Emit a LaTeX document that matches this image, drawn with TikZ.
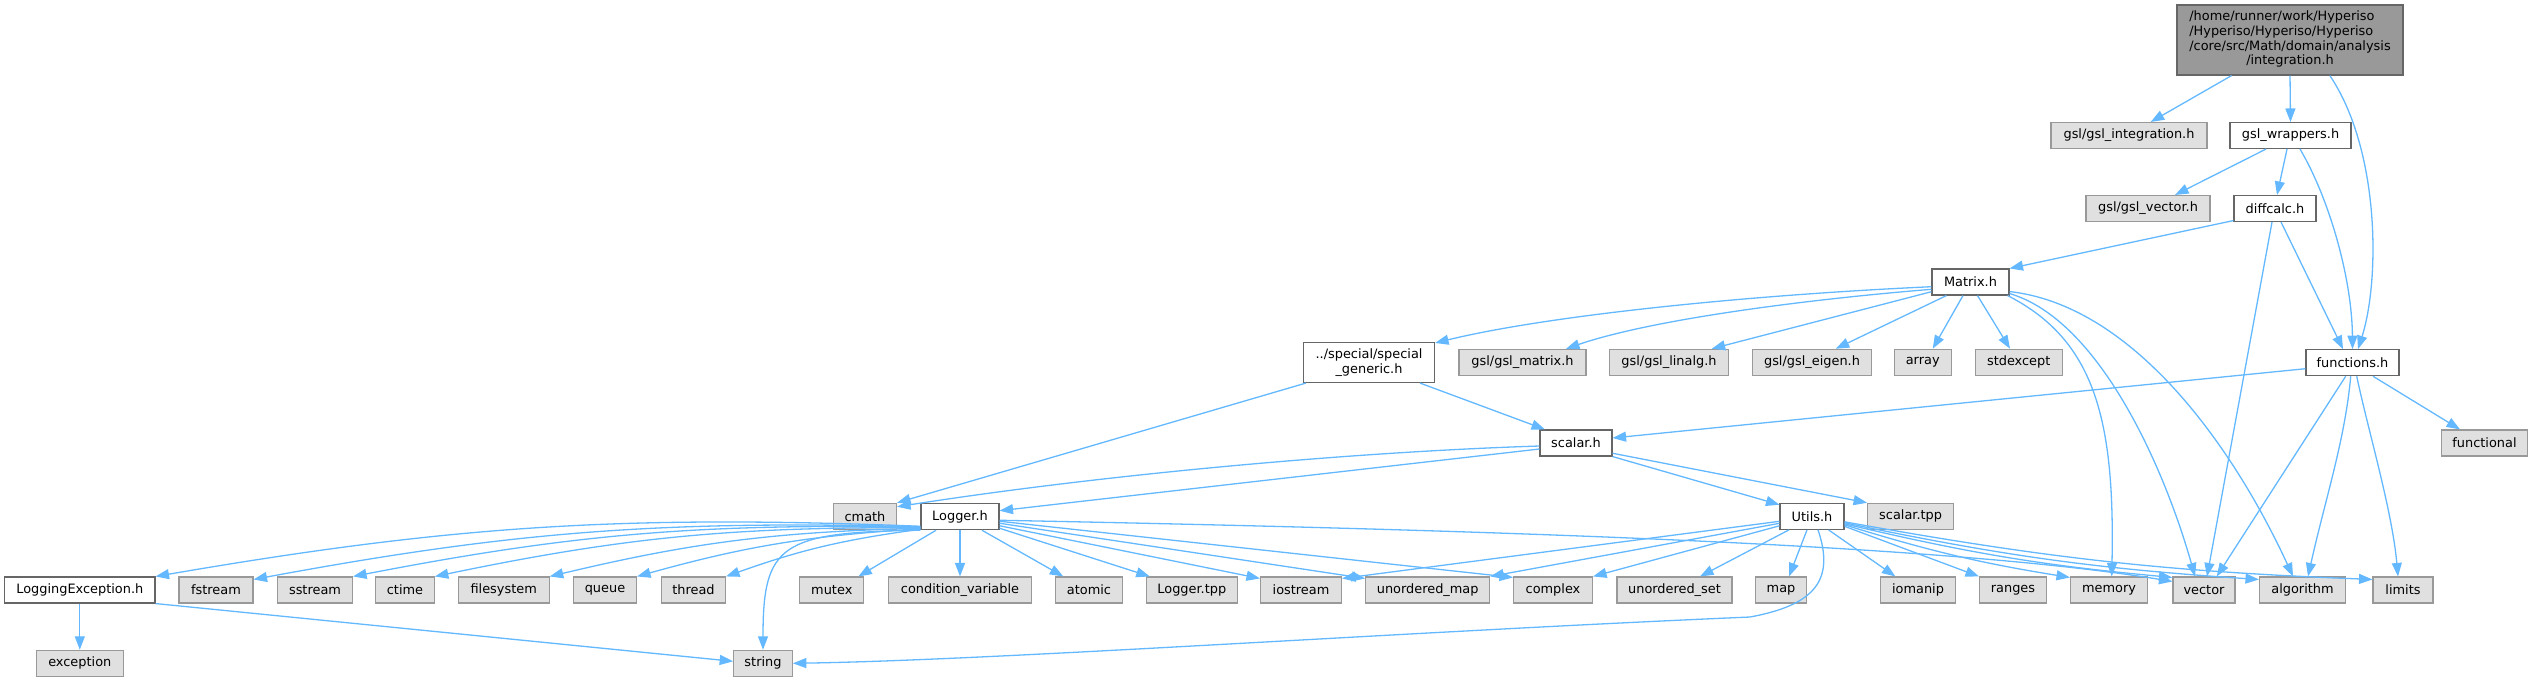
\documentclass[tikz,border=0pt]{standalone}
\usepackage{fontspec}
\setmainfont{DejaVu Sans}
\usetikzlibrary{arrows.meta,calc}
\definecolor{edgeblue}{HTML}{63B8FF}
\definecolor{docline}{HTML}{666666}
\definecolor{extline}{HTML}{999999}
\definecolor{extfill}{HTML}{E0E0E0}
\definecolor{rootfill}{HTML}{999999}
\tikzset{
  box/.style={rectangle, inner sep=0pt, minimum height=26pt, line width=1.1pt,
    font=\fontsize{12.9}{14.7}\selectfont, text=black},
  docnode/.style={box, draw=docline, fill=white},
  extnode/.style={box, draw=extline, fill=extfill},
  rootnode/.style={box, draw=docline, fill=rootfill},
  dep/.style={draw=edgeblue, line width=1.3pt, -{Triangle[length=13.5pt,width=10pt]}},
}
\newcommand\mk[6]{\node[#1,minimum width=#5pt] (#2) at (#3,#4) {#6};}
\begin{document}
\begin{tikzpicture}[x=1pt,y=-1pt]
\useasboundingbox (0,0) rectangle (2534,681);
% nodes
\node[rootnode,minimum width=226pt,minimum height=70pt] (top) at (2290,40)
  {\begin{tabular}{@{}l@{}}/home/runner/work/Hyperiso\\/Hyperiso/Hyperiso/Hyperiso\\/core/src/Math/domain/analysis\\\multicolumn{1}{@{}c@{}}{/integration.h}\end{tabular}};
\mk{extnode}{ginteg}{2129}{135.5}{156}{gsl/gsl\_integration.h}
\mk{docnode}{gwrap}{2290.5}{135.5}{121}{gsl\_wrappers.h}
\mk{extnode}{gvec}{2148}{208.5}{124}{gsl/gsl\_vector.h}
\mk{docnode}{diffcalc}{2275}{208.5}{82}{diffcalc.h}
\mk{docnode}{matrix}{1970.5}{282}{77}{Matrix.h}
\node[docnode,minimum width=131pt,minimum height=40pt,align=center] (special) at (1369,362.5) {../special/special\\\_generic.h};
\mk{extnode}{gmatrix}{1522.5}{362.3}{127}{gsl/gsl\_matrix.h}
\mk{extnode}{glinalg}{1669}{362.3}{119}{gsl/gsl\_linalg.h}
\mk{extnode}{geigen}{1812}{362.3}{119}{gsl/gsl\_eigen.h}
\mk{extnode}{array}{1922.7}{362.3}{57}{array}
\mk{extnode}{stdexcept}{2018.7}{362.3}{87}{stdexcept}
\mk{docnode}{functions}{2352.5}{362.7}{93}{functions.h}
\mk{extnode}{functional}{2484.5}{443}{86}{functional}
\mk{docnode}{scalar}{1576}{443}{72}{scalar.h}
\mk{extnode}{cmath}{865}{516.3}{63}{cmath}
\mk{docnode}{logger}{960}{516.7}{78}{Logger.h}
\mk{docnode}{utils}{1812}{516.3}{64}{Utils.h}
\mk{extnode}{scalartpp}{1910.6}{516.3}{86}{scalar.tpp}
\mk{docnode}{loggingexc}{79.8}{590}{150.4}{LoggingException.h}
\mk{extnode}{fstream}{216}{590}{74}{fstream}
\mk{extnode}{sstream}{315}{590}{75}{sstream}
\mk{extnode}{ctime}{405}{590}{58.6}{ctime}
\mk{extnode}{filesystem}{503.7}{590}{91}{filesystem}
\mk{extnode}{queue}{605}{590}{63}{queue}
\mk{extnode}{thread}{693.5}{590}{64}{thread}
\mk{extnode}{mutex}{831.8}{590}{64}{mutex}
\mk{extnode}{condvar}{960}{590}{143}{condition\_variable}
\mk{extnode}{atomic}{1089}{590}{67}{atomic}
\mk{extnode}{loggertpp}{1191.8}{590}{91}{Logger.tpp}
\mk{extnode}{iostream}{1301}{590}{81}{iostream}
\mk{extnode}{umap}{1427.7}{590}{124}{unordered\_map}
\mk{extnode}{complex}{1553}{590}{79}{complex}
\mk{extnode}{uset}{1674.5}{590}{115}{unordered\_set}
\mk{extnode}{map}{1781}{590}{51}{map}
\mk{extnode}{iomanip}{1918}{590}{75}{iomanip}
\mk{extnode}{ranges}{2013}{590}{67}{ranges}
\mk{extnode}{memory}{2109}{590}{77}{memory}
\mk{extnode}{vector}{2204}{590}{62}{vector}
\mk{extnode}{algorithm}{2302.5}{590}{86}{algorithm}
\mk{extnode}{limits}{2403}{590}{60}{limits}
\mk{extnode}{exception}{79.8}{663.3}{87}{exception}
\mk{extnode}{string}{763}{663.3}{58.6}{string}
% edges from integration.h
\draw[dep] ([xshift=-58.4pt]top.south) -- ([xshift=21.7pt]ginteg.north);
\draw[dep] (top.south) -- (gwrap.north);
\draw[dep] ([xshift=39.8pt]top.south) .. controls (2380,150) and (2380,280) .. ([xshift=5.5pt]functions.north);
% gsl_wrappers.h
\draw[dep] ([xshift=-24.5pt]gwrap.south) -- ([xshift=27pt]gvec.north);
\draw[dep] ([xshift=-3.5pt]gwrap.south) -- ([xshift=2pt]diffcalc.north);
\draw[dep] ([xshift=9.5pt]gwrap.south) .. controls (2330,200) and (2352,280) .. (functions.north);
% diffcalc.h
\draw[dep] ([yshift=1.5pt]diffcalc.south west) -- (matrix.north east);
\draw[dep] ([xshift=-3pt]diffcalc.south) -- ([xshift=3pt]vector.north);
\draw[dep] ([xshift=6pt]diffcalc.south) -- ([xshift=-9.5pt]functions.north);
% Matrix.h
\draw[dep] ([yshift=-4.7pt]matrix.west) .. controls (1750,295) and (1550,315) .. ([yshift=-1pt]special.north east);
\draw[dep] ([yshift=-7.3pt]matrix.west) .. controls (1800,300) and (1650,320) .. ([xshift=43.5pt]gmatrix.north);
\draw[dep] ([yshift=-9.7pt]matrix.west) -- ([xshift=42.7pt]glinalg.north);
\draw[dep] ([xshift=-24pt]matrix.south) -- ([xshift=23.7pt]geigen.north);
\draw[dep] ([xshift=-7.5pt]matrix.south) -- ([xshift=10pt]array.north);
\draw[dep] ([xshift=7pt]matrix.south) -- ([xshift=-8.7pt]stdexcept.north);
\draw[dep] ([xshift=-2pt]matrix.south east) .. controls (2095,340) and (2115,420) .. ([xshift=2.7pt]memory.north);
\draw[dep] ([yshift=2pt]matrix.south east) .. controls (2100,320) and (2165,470) .. ([xshift=-9pt]vector.north);
\draw[dep] ([yshift=4pt]matrix.south east) .. controls (2130,305) and (2230,440) .. ([xshift=-9.5pt]algorithm.north);
% functions.h
\draw[dep] ([yshift=-6pt]functions.west) -- ([yshift=5pt]scalar.east);
\draw[dep] ([xshift=20.5pt]functions.south) -- ([xshift=-24.5pt]functional.north);
\draw[dep] ([xshift=-6.8pt]functions.south) -- ([xshift=12.7pt]vector.north);
\draw[dep] ([xshift=-1.8pt]functions.south) .. controls (2345,440) and (2325,500) .. ([xshift=5.5pt]algorithm.north);
\draw[dep] ([xshift=4.2pt]functions.south) .. controls (2368,430) and (2392,510) .. ([xshift=-5pt]limits.north);
% special_generic.h
\draw[dep] ([xshift=3pt]special.south west) -- (cmath.north east);
\draw[dep] ([xshift=51pt]special.south) -- ([xshift=-31pt]scalar.north);
% scalar.h
\draw[dep] ([yshift=-3pt]scalar.west) .. controls (1350,452) and (1100,475) .. ([yshift=-4pt]cmath.north east);
\draw[dep] ([yshift=-6pt]scalar.west) -- ([yshift=6pt]logger.east);
\draw[dep] (scalar.south east) -- ([yshift=-2pt]utils.north west);
\draw[dep] ([yshift=3.3pt]scalar.south east) -- (scalartpp.north west);
% Logger.h
\draw[dep] ([yshift=4pt]logger.south west) to[bend right=6] (loggingexc.north east);
\draw[dep] ([yshift=3.5pt]logger.south west) to[bend right=6] ([yshift=-3pt]fstream.north east);
\draw[dep] ([yshift=3pt]logger.south west) to[bend right=6] (sstream.north east);
\draw[dep] ([yshift=2.5pt]logger.south west) to[bend right=6] (ctime.north east);
\draw[dep] ([yshift=2pt]logger.south west) to[bend right=6] (filesystem.north east);
\draw[dep] ([yshift=1.5pt]logger.south west) to[bend right=6] (queue.north east);
\draw[dep] ([yshift=1pt]logger.south west) to[bend right=6] (thread.north east);
\draw[dep] ([xshift=-24pt]logger.south) -- ([xshift=-6pt]mutex.north east);
\draw[dep] (logger.south west) .. controls (780,532) and (763,545) .. (string.north);
\draw[dep] (logger.south) -- (condvar.north);
\draw[dep] ([xshift=22pt]logger.south) -- ([xshift=-25.7pt]atomic.north);
\draw[dep] ([yshift=2pt]logger.south east) -- ([xshift=4pt]loggertpp.north west);
\draw[dep] ([yshift=4.5pt]logger.south east) -- ([yshift=-2pt]iostream.north west);
\draw[dep] ([yshift=7pt]logger.south east) -- ([yshift=-2pt]umap.north west);
\draw[dep] ([yshift=9pt]logger.south east) -- ([yshift=-1pt]complex.north west);
\draw[dep] ([yshift=10pt]logger.south east) .. controls (1500,530) and (1950,545) .. ([yshift=-5pt]vector.north west);
% LoggingException.h
\draw[dep] (loggingexc.south) -- (exception.north);
\draw[dep] (loggingexc.south east) -- ([yshift=2pt]string.west);
% Utils.h
\draw[dep] ([yshift=-5pt]utils.west) -- ([yshift=-2pt]iostream.north east);
\draw[dep] ([yshift=-7pt]utils.west) -- (umap.north east);
\draw[dep] ([yshift=-9.5pt]utils.west) -- (complex.north east);
\draw[dep] ([xshift=-23pt]utils.south) -- ([xshift=25.5pt]uset.north);
\draw[dep] ([xshift=-5pt]utils.south) -- ([xshift=8pt]map.north);
\draw[dep] ([xshift=6pt]utils.south) .. controls (1835,580) and (1815,605) .. (1750,617) .. controls (1400,632) and (1000,660) .. (string.east);
\draw[dep] ([xshift=16.5pt]utils.south) -- ([xshift=-22.6pt]iomanip.north);
\draw[dep] ([yshift=-10pt]utils.east) -- (ranges.north west);
\draw[dep] ([yshift=-8.5pt]utils.east) to[bend right=4] ([yshift=-1pt]memory.north west);
\draw[dep] ([yshift=-7.5pt]utils.east) to[bend right=4] ([yshift=-1pt]vector.north west);
\draw[dep] ([yshift=-6.5pt]utils.east) to[bend right=4] ([yshift=-3pt]algorithm.north west);
\draw[dep] ([yshift=-5.5pt]utils.east) to[bend right=4] ([yshift=-3pt]limits.north west);
\end{tikzpicture}
\end{document}
